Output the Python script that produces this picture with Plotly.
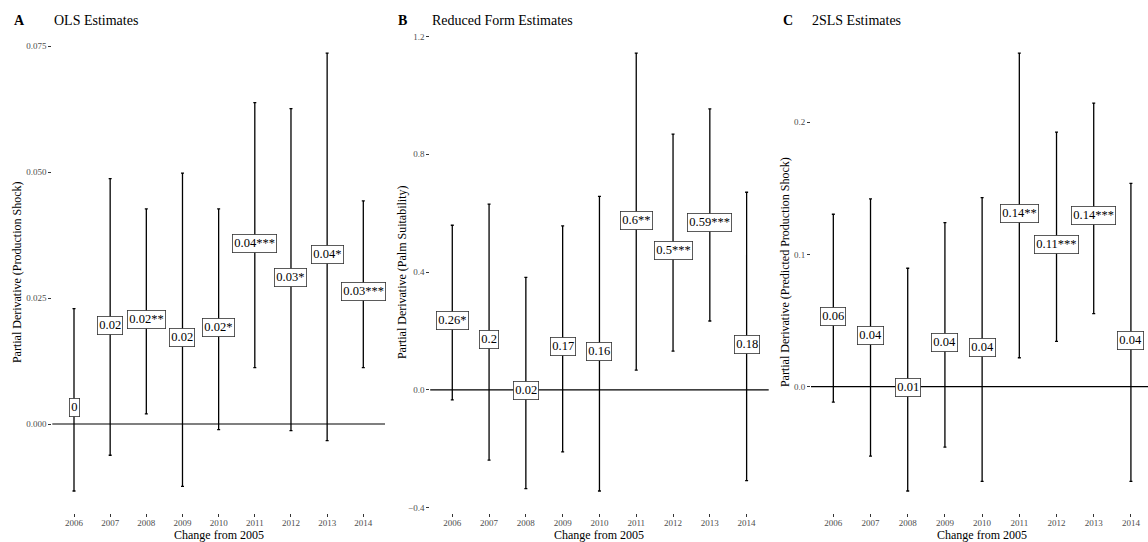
import plotly.graph_objects as go

# Event-study coefficients by year (change from 2005), with 95% CI bounds
years = [2006, 2007, 2008, 2009, 2010, 2011, 2012, 2013, 2014]

ols_est = [0.0048, 0.0212, 0.0224, 0.0187, 0.0208, 0.0375, 0.0307, 0.0352, 0.0278]
ols_lo = [-0.0133, -0.0062, 0.0020, -0.0124, -0.0011, 0.0112, -0.0013, -0.0033, 0.0112]
ols_hi = [0.0229, 0.0487, 0.0427, 0.0498, 0.0427, 0.0638, 0.0626, 0.0736, 0.0443]
ols_stars = ["", "", "**", "", "*", "***", "*", "*", "***"]

rf_est = [0.262, 0.197, 0.024, 0.173, 0.157, 0.603, 0.500, 0.594, 0.182]
rf_lo = [-0.034, -0.238, -0.335, -0.210, -0.343, 0.067, 0.132, 0.234, -0.308]
rf_hi = [0.559, 0.631, 0.382, 0.557, 0.657, 1.143, 0.868, 0.954, 0.671]
rf_stars = ["*", "", "", "", "", "**", "***", "***", ""]

iv_est = [0.0594, 0.0447, 0.0054, 0.0392, 0.0357, 0.1370, 0.1133, 0.1352, 0.0411]
iv_lo = [-0.0116, -0.0524, -0.0788, -0.0456, -0.0715, 0.0219, 0.0343, 0.0552, -0.0715]
iv_hi = [0.1303, 0.1419, 0.0895, 0.1240, 0.1429, 0.2520, 0.1923, 0.2142, 0.1537]
iv_stars = ["", "", "", "", "", "**", "***", "***", ""]

W, H = 1148, 542
FONT = "Liberation Serif, Times New Roman, serif"
PLOT_TOP, PLOT_BOTTOM = 31.3, 512.9  # panel edges in px from top

panels = [
    dict(letter="A", title="OLS Estimates",
         ytitle="Partial Derivative (Production Shock)",
         est=ols_est, lo=ols_lo, hi=ols_hi, stars=ols_stars,
         yticks=[0.0, 0.025, 0.05, 0.075], fmt=".3f",
         px0=52.3, px1=385.0, xr=[2005.4, 2014.6],
         letter_x=12, title_x=52, ytitle_x=17),
    dict(letter="B", title="Reduced Form Estimates",
         ytitle="Partial Derivative (Palm Suitability)",
         est=rf_est, lo=rf_lo, hi=rf_hi, stars=rf_stars,
         yticks=[-0.4, 0.0, 0.4, 0.8, 1.2], fmt=".1f",
         px0=430.2, px1=768.7, xr=[2005.4, 2014.6],
         letter_x=396, title_x=430, ytitle_x=402),
    dict(letter="C", title="2SLS Estimates",
         ytitle="Partial Derivative (Predicted Production Shock)",
         est=iv_est, lo=iv_lo, hi=iv_hi, stars=iv_stars,
         yticks=[0.0, 0.1, 0.2], fmt=".1f",
         px0=811.0, px1=1148.0, xr=[2005.4, 2005.4 + (1148 - 811) / 37.2],
         letter_x=781, title_x=810, ytitle_x=785),
]

fig = go.Figure()
annotations = []
shapes = []
ydom = [(H - PLOT_BOTTOM) / H, (H - PLOT_TOP) / H]

for i, p in enumerate(panels, start=1):
    xa = "x" if i == 1 else f"x{i}"
    ya = "y" if i == 1 else f"y{i}"
    xkey = "xaxis" if i == 1 else f"xaxis{i}"
    ykey = "yaxis" if i == 1 else f"yaxis{i}"

    lo, hi, est = p["lo"], p["hi"], p["est"]
    ymin, ymax = min(lo), max(hi)
    pad = 0.05 * (ymax - ymin)

    fig.add_trace(go.Scatter(
        x=years, y=est, xaxis=xa, yaxis=ya, mode="markers",
        marker=dict(size=1, color="rgba(0,0,0,0)"),
        error_y=dict(type="data", symmetric=False,
                     array=[h - e for h, e in zip(hi, est)],
                     arrayminus=[e - l for e, l in zip(est, lo)],
                     color="black", thickness=1.3, width=1.5),
        showlegend=False, hoverinfo="skip",
    ))

    fig.layout[xkey] = dict(
        domain=[p["px0"] / W, p["px1"] / W], range=p["xr"], anchor=ya,
        tickvals=years, ticktext=[str(y) for y in years],
        ticks="outside", ticklen=3, tickcolor="#333333", tickwidth=1,
        ticklabelstandoff=-2,
        showgrid=False, zeroline=False, showline=False,
        tickfont=dict(family=FONT, size=9, color="#4d4d4d"),
    )
    fig.layout[ykey] = dict(
        domain=ydom, range=[ymin - pad, ymax + pad], anchor=xa,
        tickvals=p["yticks"], tickformat=p["fmt"],
        ticks="outside", ticklen=3, tickcolor="#333333", tickwidth=1,
        showgrid=False, zeroline=False, showline=False,
        tickfont=dict(family=FONT, size=9, color="#4d4d4d"),
    )

    # horizontal reference line at zero
    shapes.append(dict(type="line", xref=f"{xa} domain", yref=ya,
                       x0=0, x1=1, y0=0, y1=0, layer="below",
                       line=dict(color="black", width=1.2)))

    # coefficient labels
    for yr, e, s in zip(years, est, p["stars"]):
        annotations.append(dict(
            x=yr, y=e, xref=xa, yref=ya, showarrow=False,
            text=f"{round(e, 2):g}{s}", yshift=-8,
            font=dict(family=FONT, size=12.5, color="black"),
            bgcolor="white", bordercolor="#333333", borderwidth=0.8,
            borderpad=1.5,
        ))

    # panel letter and title
    annotations.append(dict(
        x=p["letter_x"] / W, y=(H - 20) / H, xref="paper", yref="paper",
        xanchor="left", yanchor="middle", showarrow=False,
        text=f"<b>{p['letter']}</b>",
        font=dict(family=FONT, size=14, color="black")))
    annotations.append(dict(
        x=p["title_x"] / W, y=(H - 20) / H, xref="paper", yref="paper",
        xanchor="left", yanchor="middle", showarrow=False,
        text=p["title"], font=dict(family=FONT, size=14, color="black")))

    # axis titles, x title centred under 2010
    frac = (2010 - p["xr"][0]) / (p["xr"][1] - p["xr"][0])
    annotations.append(dict(
        x=(p["px0"] + frac * (p["px1"] - p["px0"])) / W, y=(H - 535) / H,
        xref="paper", yref="paper", showarrow=False,
        text="Change from 2005", xanchor="center", yanchor="middle",
        font=dict(family=FONT, size=12, color="black")))
    annotations.append(dict(
        x=p["ytitle_x"] / W, y=(H - (PLOT_TOP + PLOT_BOTTOM) / 2) / H,
        xref="paper", yref="paper", showarrow=False, textangle=-90,
        text=p["ytitle"], xanchor="center", yanchor="middle",
        font=dict(family=FONT, size=12, color="black")))

fig.update_layout(
    width=W, height=H, margin=dict(l=0, r=0, t=0, b=0),
    paper_bgcolor="white", plot_bgcolor="white",
    annotations=annotations, shapes=shapes,
    font=dict(family=FONT),
)

fig.write_html("out.html")
